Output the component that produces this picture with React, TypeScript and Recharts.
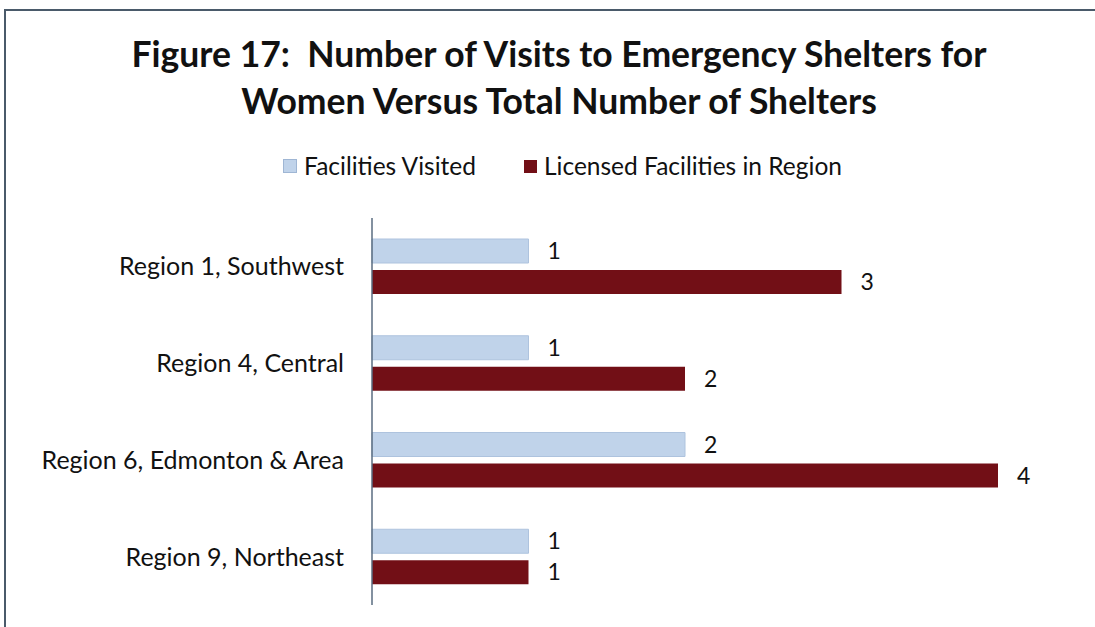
import React from "react";
import { BarChart, Bar, XAxis, YAxis, LabelList } from "recharts";

const categories = ["Region 1, Southwest", "Region 4, Central", "Region 6, Edmonton & Area", "Region 9, Northeast"];
const facilitiesVisited = [1, 1, 2, 1];
const licensedFacilities = [3, 2, 4, 1];
const seriesNames = ["Facilities Visited", "Licensed Facilities in Region"];
const titleLines = ["Figure 17:  Number of Visits to Emergency Shelters for", "Women Versus Total Number of Shelters"];

const data = categories.map((c, i) => ({ name: c, visited: facilitiesVisited[i], licensed: licensedFacilities[i] }));

const BLUE = "#c0d3ea";
const RED = "#720f16";
const FONT = "Lato, 'Noto Sans', sans-serif";

export default function App() {
  return (
    <div style={{ position: "absolute", left: 0, top: 0, width: 1095, height: 627, background: "#fff", overflow: "hidden" }}>
      <div style={{ position: "absolute", left: 4, top: 9, width: 1095, height: 640, border: "2px solid #4a5a6a", boxSizing: "border-box" }} />
      <div style={{ position: "absolute", left: 0, top: 30, width: 1118, textAlign: "center", fontFamily: FONT, fontWeight: 700, fontSize: 35.5, lineHeight: "47px", color: "#111" }}>
        {titleLines.map((l, i) => (<div key={i} style={{ whiteSpace: "pre" }}>{l}</div>))}
      </div>
      <div style={{ position: "absolute", left: 0, top: 151, width: 1125, height: 30, display: "flex", justifyContent: "center", alignItems: "center", fontFamily: FONT, fontSize: 24.5, lineHeight: "30px", color: "#111", gap: 48 }}>
        <div style={{ display: "flex", alignItems: "center" }}>
          <span style={{ display: "inline-block", width: 12, height: 12, background: BLUE, border: "1px solid #9fb6d4", marginRight: 7 }} />
          {seriesNames[0]}
        </div>
        <div style={{ display: "flex", alignItems: "center" }}>
          <span style={{ display: "inline-block", width: 13, height: 13, background: RED, marginRight: 7 }} />
          {seriesNames[1]}
        </div>
      </div>
      <div style={{ position: "absolute", left: 0, top: 0 }}>
        <BarChart width={1095} height={627} data={data} layout="vertical" margin={{ top: 218, right: 97, bottom: 22, left: 0 }} barSize={24} barGap={7} barCategoryGap={20}>
          <XAxis type="number" domain={[0, 4]} hide />
          <YAxis type="category" dataKey="name" width={372} axisLine={{ stroke: "#5a6d80", strokeWidth: 1.5 }} tickLine={false} tickSize={0} tickMargin={28} tick={{ fontFamily: FONT, fontSize: 25, fill: "#111" }} />
          <Bar dataKey="visited" name={seriesNames[0]} fill={BLUE} stroke="#aec3de" strokeWidth={1} isAnimationActive={false}>
            <LabelList dataKey="visited" position="right" offset={19} style={{ fontFamily: FONT, fontSize: 23, fill: "#111" }} />
          </Bar>
          <Bar dataKey="licensed" name={seriesNames[1]} fill={RED} isAnimationActive={false}>
            <LabelList dataKey="licensed" position="right" offset={19} style={{ fontFamily: FONT, fontSize: 23, fill: "#111" }} />
          </Bar>
        </BarChart>
      </div>
    </div>
  );
}
